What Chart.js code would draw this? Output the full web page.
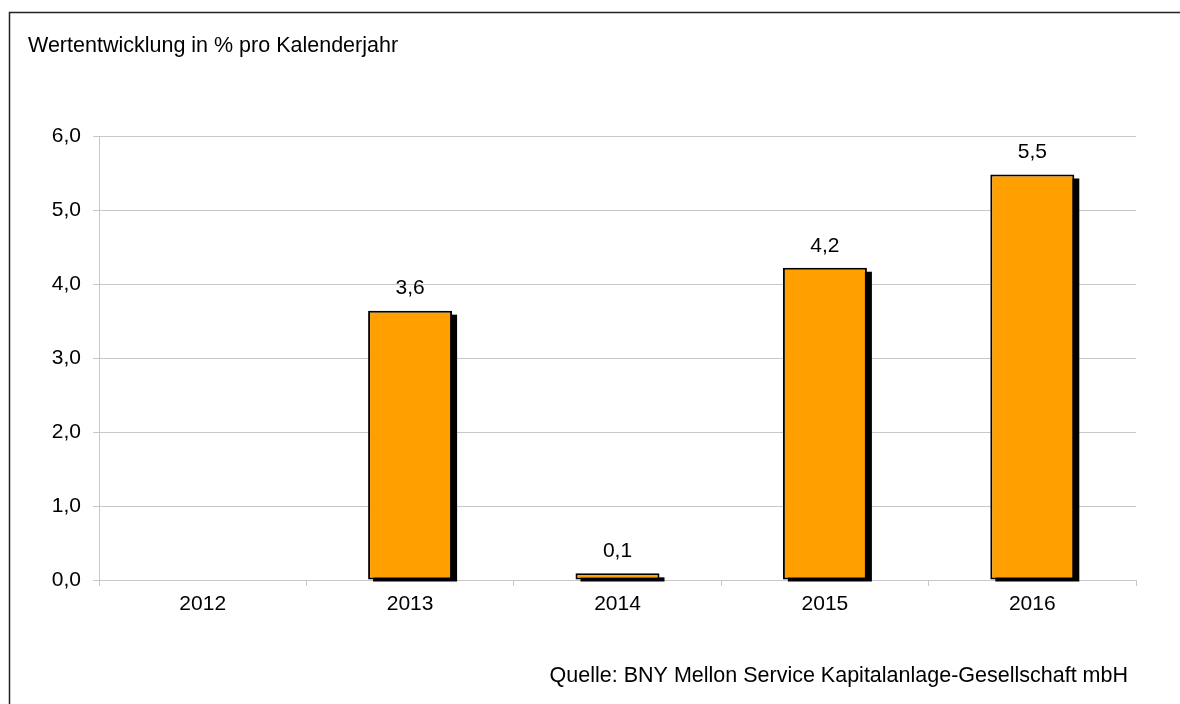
<!DOCTYPE html>
<html lang="de">
<head>
<meta charset="UTF-8">
<script src="https://cdn.jsdelivr.net/npm/chart.js"></script>
<title>Wertentwicklung</title>
<style>
  html, body { margin: 0; padding: 0; background: #fff; }
  #wrap { width: 1180px; height: 704px; position: relative; }
</style>
</head>
<body>
<div id="wrap"><canvas id="chart" width="1180" height="704"></canvas></div>
<script>
// data
const years = ['2012', '2013', '2014', '2015', '2016'];
const returns = [null, 3.64, 0.09, 4.22, 5.48];
const yTicks = [0, 1, 2, 3, 4, 5, 6];

const titleText = 'Wertentwicklung in % pro Kalenderjahr';
const sourceText = 'Quelle: BNY Mellon Service Kapitalanlage-Gesellschaft mbH';

const fontFamily = '"Liberation Sans", Arial, sans-serif';
const fontSize = 21;
const fmt = v => v.toFixed(1).replace('.', ',');

// frame + title + source
const framePlugin = {
  id: 'frame',
  beforeDraw(chart) {
    const ctx = chart.ctx;
    ctx.save();
    ctx.strokeStyle = '#222';
    ctx.lineWidth = 1.5;
    ctx.beginPath();
    ctx.moveTo(9.5, 704);
    ctx.lineTo(9.5, 12.5);
    ctx.lineTo(1180, 12.5);
    ctx.stroke();
    ctx.fillStyle = '#000';
    ctx.font = '21.5px ' + fontFamily;
    ctx.textBaseline = 'middle';
    ctx.textAlign = 'left';
    ctx.fillText(titleText, 28, 46);
    ctx.textAlign = 'right';
    ctx.fillText(sourceText, 1128, 676);
    ctx.restore();
  }
};

// black drop shadow behind each bar
const shadowPlugin = {
  id: 'barShadow',
  beforeDatasetsDraw(chart) {
    const ctx = chart.ctx;
    const meta = chart.getDatasetMeta(0);
    ctx.save();
    ctx.fillStyle = '#000';
    meta.data.forEach((bar, i) => {
      if (returns[i] == null) return;
      const w = bar.width;
      const left = bar.x - w / 2 + 5;
      const top = bar.y + 4;
      ctx.fillRect(left, top, w, bar.base - top + 2);
    });
    ctx.restore();
  }
};

// value labels above the bars
const labelPlugin = {
  id: 'valueLabels',
  afterDatasetsDraw(chart) {
    const ctx = chart.ctx;
    const meta = chart.getDatasetMeta(0);
    ctx.save();
    ctx.fillStyle = '#000';
    ctx.font = fontSize + 'px ' + fontFamily;
    ctx.textAlign = 'center';
    ctx.textBaseline = 'middle';
    meta.data.forEach((bar, i) => {
      if (returns[i] == null) return;
      ctx.fillText(fmt(returns[i]), bar.x, bar.y - 22);
    });
    ctx.restore();
  }
};

new Chart(document.getElementById('chart'), {
  type: 'bar',
  data: {
    labels: years,
    datasets: [{
      data: returns,
      backgroundColor: '#FFA000',
      borderColor: '#000',
      borderWidth: 2,
      borderSkipped: false,
      categoryPercentage: 1,
      barPercentage: 0.405
    }]
  },
  options: {
    responsive: false,
    animation: false,
    events: [],
    layout: { padding: { top: 136, right: 44, bottom: 0, left: 0 } },
    plugins: {
      legend: { display: false },
      tooltip: { enabled: false },
      title: { display: false }
    },
    scales: {
      x: {
        grid: {
          offset: true,
          drawOnChartArea: false,
          drawTicks: true,
          tickLength: 6,
          color: '#c8c8c8'
        },
        border: { color: '#c8c8c8', width: 1 },
        ticks: {
          color: '#000',
          padding: 6,
          font: { family: fontFamily, size: fontSize }
        },
        afterFit(scale) { scale.height = 124; }
      },
      y: {
        min: 0,
        max: 6,
        afterBuildTicks(scale) { scale.ticks = yTicks.map(v => ({ value: v })); },
        grid: { color: '#c8c8c8', tickLength: 6 },
        border: { color: '#c8c8c8', width: 1 },
        ticks: {
          color: '#000',
          padding: 12,
          font: { family: fontFamily, size: fontSize },
          callback: v => fmt(v)
        },
        afterFit(scale) { scale.width = 99; }
      }
    }
  },
  plugins: [framePlugin, shadowPlugin, labelPlugin]
});
</script>
</body>
</html>
